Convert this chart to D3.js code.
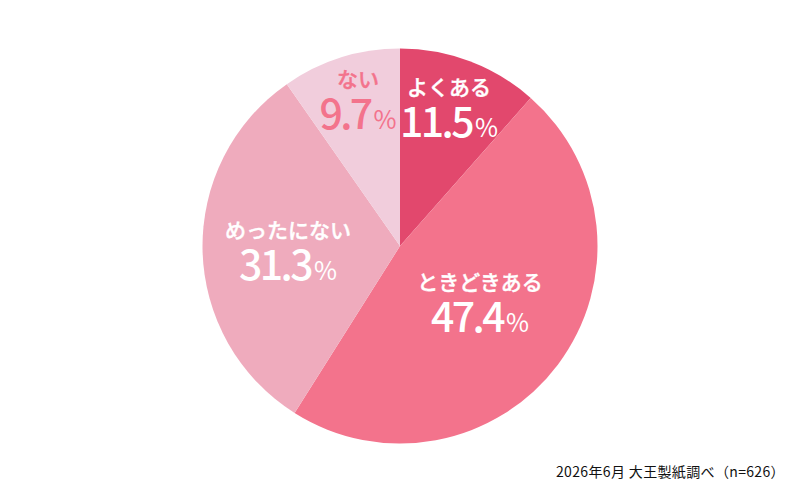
<!DOCTYPE html>
<html lang="ja">
<head>
<meta charset="utf-8">
<script src="https://cdn.jsdelivr.net/npm/d3@7"></script>
<style>
  html, body { margin: 0; background: #fff; }
  text { font-family: "Noto Sans CJK JP", "Noto Sans", sans-serif; }
</style>
</head>
<body>
<svg id="chart" width="800" height="493"></svg>
<script>
const categories = ["よくある", "ときどきある", "めったにない", "ない"];
const values = [11.5, 47.4, 31.3, 9.7];
const colors = ["#e2486d", "#f3738c", "#efabbd", "#f1cddc"];
const labelColors = ["#fff", "#fff", "#fff", "#f3738c"];
const note = "2026年6月 大王製紙調べ（n=626）";

const svg = d3.select("#chart");
const g = svg.append("g").attr("transform", "translate(400,246)");

const pie = d3.pie().sort(null).value(d => d);
const arcs = pie(values);
const arc = d3.arc().innerRadius(0).outerRadius(197.5);

g.selectAll("path")
  .data(arcs)
  .enter()
  .append("path")
  .attr("d", arc)
  .attr("fill", (d, i) => colors[i]);

// label anchors, relative to the pie centre
const labelX = [49, 80, -112, -42];
const labelY = [-151, 44, -8, -159];

const labels = g.selectAll("g.label")
  .data(arcs)
  .enter()
  .append("g")
  .attr("class", "label")
  .attr("transform", (d, i) => "translate(" + labelX[i] + "," + labelY[i] + ")")
  .attr("text-anchor", "middle")
  .attr("fill", (d, i) => labelColors[i]);

labels.append("text")
  .attr("font-size", 21)
  .attr("font-weight", 500)
  .attr("stroke", (d, i) => labelColors[i])
  .attr("stroke-width", 0.4)
  .text((d, i) => categories[i]);

const pct = labels.append("text")
  .attr("y", 41.5)
  .attr("font-size", 41)
  .attr("font-weight", 500)
  .attr("letter-spacing", -2.6);
pct.append("tspan").text(d => d.data.toFixed(1));
pct.append("tspan")
  .attr("font-size", 25)
  .attr("font-weight", 400)
  .attr("letter-spacing", 0)
  .attr("dx", 3)
  .text("%");

svg.append("text")
  .attr("x", 556)
  .attr("y", 477)
  .attr("font-size", 14)
  .attr("letter-spacing", 0.35)
  .attr("fill", "#111")
  .text(note);
</script>
</body>
</html>
